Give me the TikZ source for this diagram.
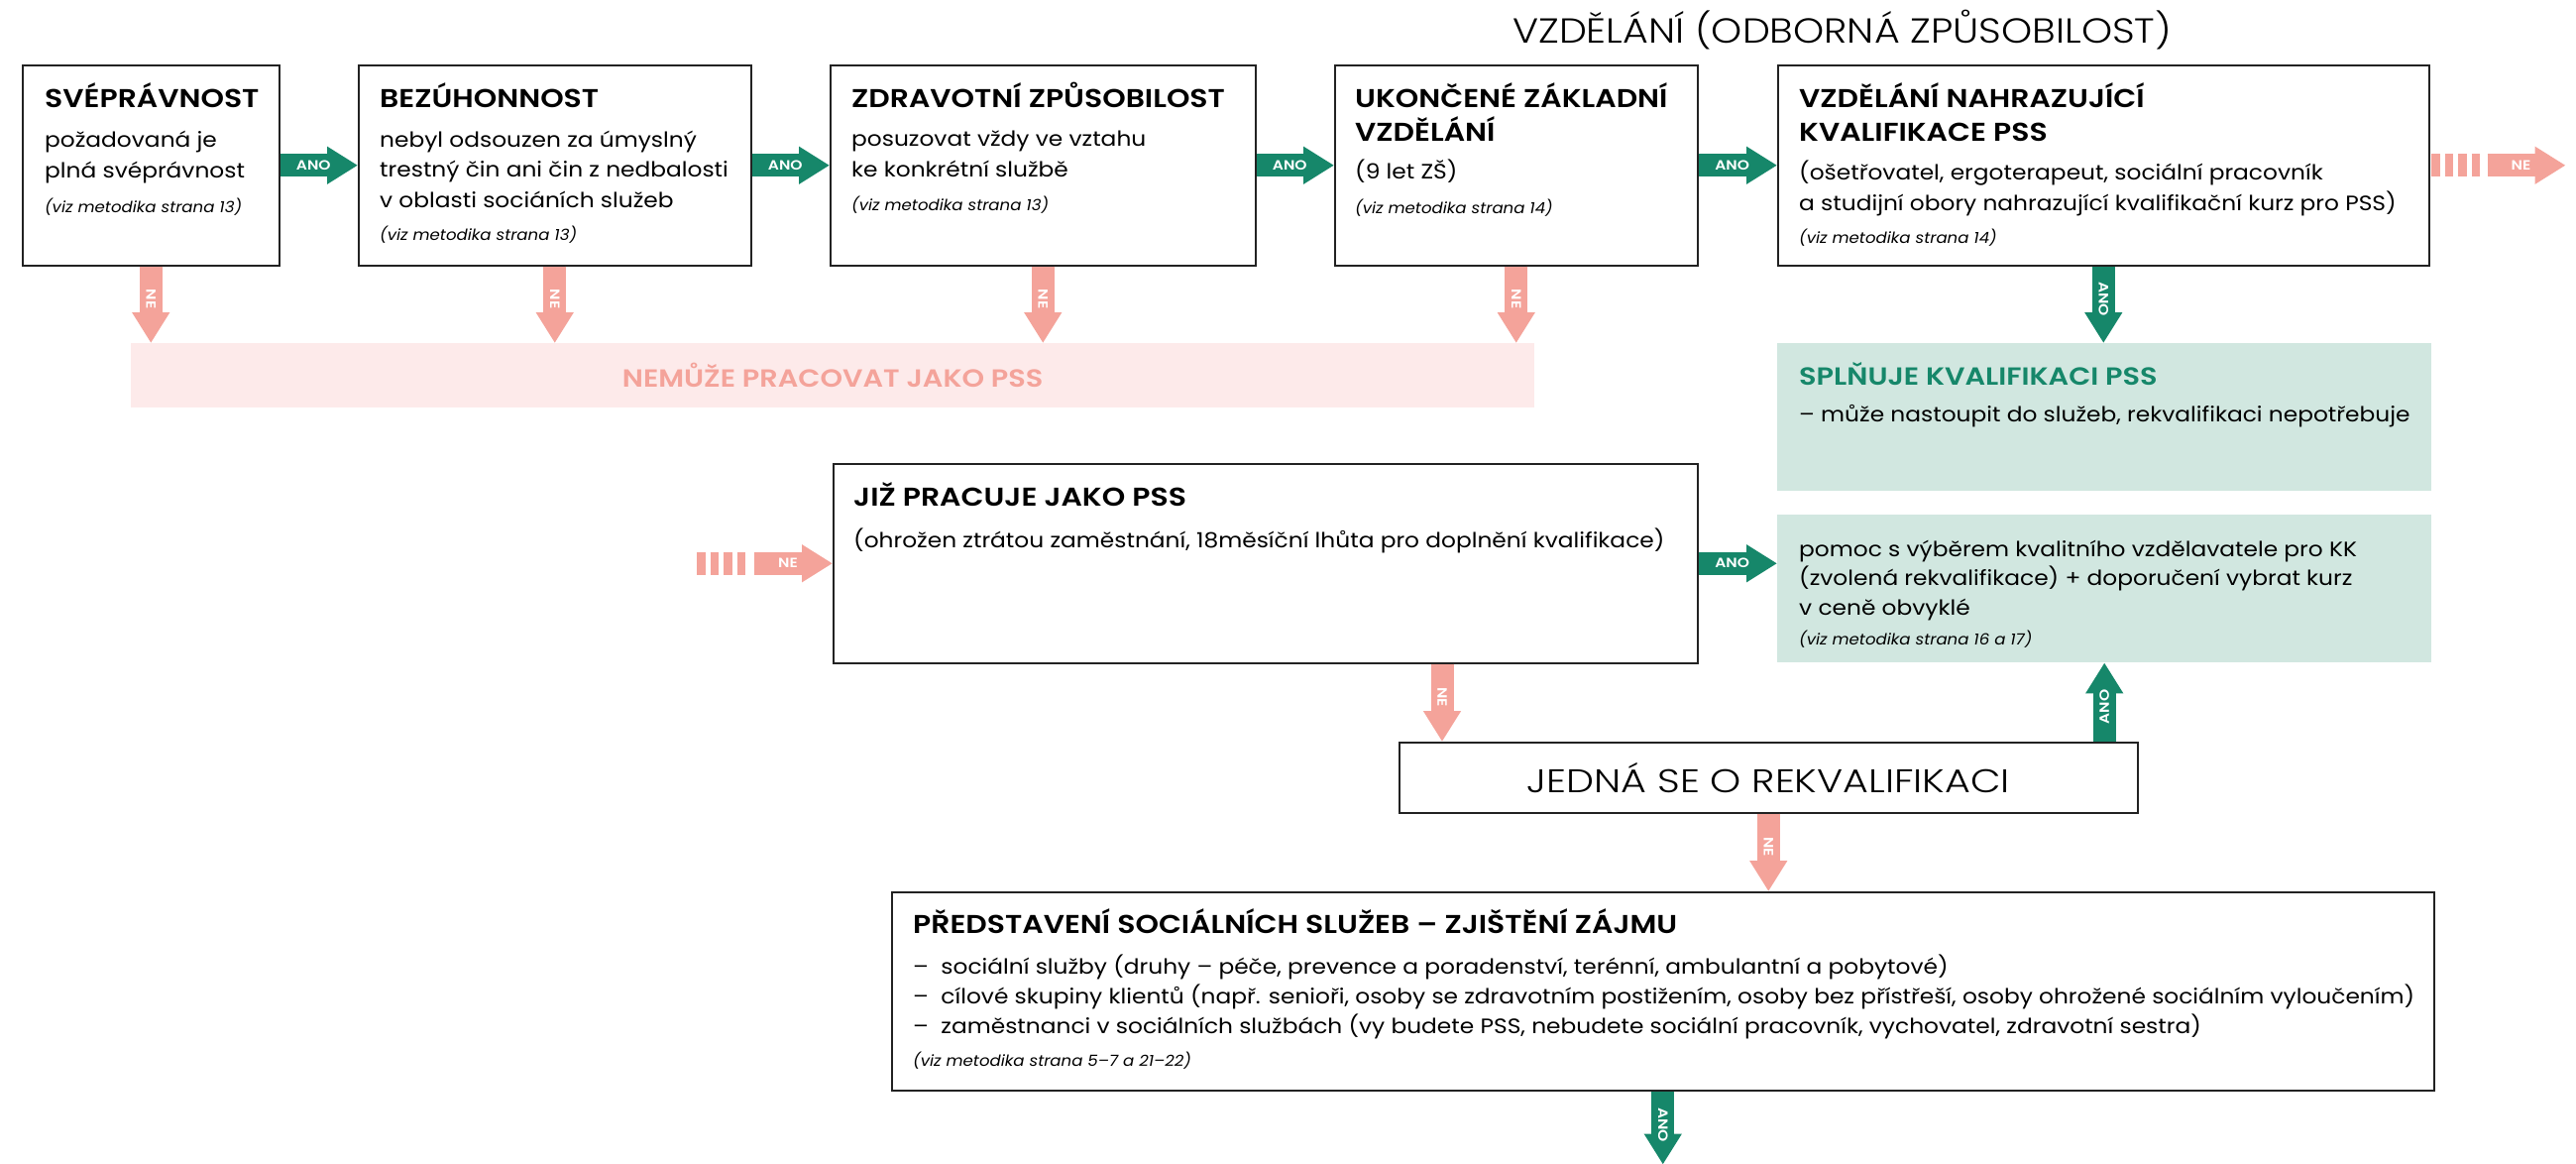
\documentclass[tikz,border=0pt]{standalone}
\usepackage{fontspec}
\setmainfont{Poppins}[FakeStretch=1.11]
\newfontfamily\headfont{Poppins SemiBold}[FakeStretch=1.15]
\newfontfamily\reffont{Poppins Italic}[FakeStretch=1.07]
\newfontfamily\lightfont{Poppins Light}[FakeStretch=1.13]
\newfontfamily\jednafont{Poppins Light}[FakeStretch=1.2]
\usetikzlibrary{arrows.meta}

\definecolor{anogreen}{HTML}{16876A}
\definecolor{nepink}{HTML}{F4A39A}
\definecolor{pinkbg}{HTML}{FDEAEA}
\definecolor{greenbg}{HTML}{D1E7E0}
\definecolor{boxline}{HTML}{222222}

\tikzset{
  boxnode/.style={draw=boxline, line width=1.5pt, inner sep=0pt, anchor=north west},
  fillbox/.style={inner sep=0pt, anchor=north west},
  headtxt/.style={anchor=base west, inner sep=0pt, align=left, font=\headfont\fontsize{26}{34}\selectfont},
  bodytxt/.style={anchor=base west, inner sep=0pt, align=left, font=\fontsize{21}{30.5}\selectfont},
  reftxt/.style={anchor=base west, inner sep=0pt, font=\reffont\fontsize{15.5}{20}\selectfont},
  anoarrow/.style={draw=anogreen, line width=23pt, -{Triangle[length=31pt,width=36pt]}},
  nearrow/.style={draw=nepink, line width=23pt, -{Triangle[length=31pt,width=36pt]}},
  stripes/.style={draw=nepink, line width=23pt, dash pattern=on 8.6pt off 5pt},
  lbl/.style={text=white, inner sep=0pt, font=\headfont\fontsize{13.5}{14}\selectfont},
}

\begin{document}
\begin{tikzpicture}[x=1pt,y=-1pt]
    \useasboundingbox[fill=white] (0,0) rectangle (2599,1173);

    \node [anchor=base west, inner sep=0pt, font=\lightfont\fontsize{35}{40}\selectfont] (titul) at (1526,43) {VZDĚLÁNÍ (ODBORNÁ ZPŮSOBILOST)};

    \node [boxnode, minimum width=259pt, minimum height=202pt] (svep) at (22,65) {};
    \node [headtxt] (svep-h) at ([shift={(23,43)}]svep.north west) {SVÉPRÁVNOST};
    \node [bodytxt] (svep-b) at ([shift={(23,114)}]svep.north west) {požadovaná je\\plná svéprávnost};
    \node [reftxt] (svep-r) at ([shift={(23,149)}]svep.north west) {(viz metodika strana 13)};

    \node [boxnode, minimum width=396pt, minimum height=202pt] (bezuh) at (361,65) {};
    \node [headtxt] (bezuh-h) at ([shift={(22,43)}]bezuh.north west) {BEZÚHONNOST};
    \node [bodytxt] (bezuh-b) at ([shift={(22,144)}]bezuh.north west) {nebyl odsouzen za úmyslný\\trestný čin ani čin z nedbalosti\\v oblasti sociáních služeb};
    \node [reftxt] (bezuh-r) at ([shift={(22,177)}]bezuh.north west) {(viz metodika strana 13)};

    \node [boxnode, minimum width=429pt, minimum height=202pt] (zdrav) at (837,65) {};
    \node [headtxt] (zdrav-h) at ([shift={(22,43)}]zdrav.north west) {ZDRAVOTNÍ ZPŮSOBILOST};
    \node [bodytxt] (zdrav-b) at ([shift={(22,113)}]zdrav.north west) {posuzovat vždy ve vztahu\\ke konkrétní službě};
    \node [reftxt] (zdrav-r) at ([shift={(22,147)}]zdrav.north west) {(viz metodika strana 13)};

    \node [boxnode, minimum width=366pt, minimum height=202pt] (zakl) at (1346,65) {};
    \node [headtxt] (zakl-h) at ([shift={(21,77)}]zakl.north west) {UKONČENÉ ZÁKLADNÍ\\VZDĚLÁNÍ};
    \node [bodytxt] (zakl-b) at ([shift={(21,115)}]zakl.north west) {(9 let ZŠ)};
    \node [reftxt] (zakl-r) at ([shift={(21,150)}]zakl.north west) {(viz metodika strana 14)};

    \node [boxnode, minimum width=657pt, minimum height=202pt] (nahr) at (1793,65) {};
    \node [headtxt] (nahr-h) at ([shift={(22,77)}]nahr.north west) {VZDĚLÁNÍ NAHRAZUJÍCÍ\\KVALIFIKACE PSS};
    \node [bodytxt] (nahr-b) at ([shift={(22,147)}]nahr.north west) {(ošetřovatel, ergoterapeut, sociální pracovník\\a studijní obory nahrazující kvalifikační kurz pro PSS)};
    \node [reftxt] (nahr-r) at ([shift={(22,180)}]nahr.north west) {(viz metodika strana 14)};

    \node [fillbox, fill=pinkbg, minimum width=1416pt, minimum height=65pt, text=nepink, font=\headfont\fontsize{25}{30}\selectfont] (nemuze) at (132,346) {NEMŮŽE PRACOVAT JAKO PSS};

    \node [fillbox, fill=greenbg, minimum width=660pt, minimum height=149pt] (splnuje) at (1793,346) {};
    \node [headtxt, text=anogreen, font=\headfont\fontsize{25}{30}\selectfont] (splnuje-h) at ([shift={(22,42)}]splnuje.north west) {SPLŇUJE KVALIFIKACI PSS};
    \node [bodytxt] (splnuje-b) at ([shift={(22,79)}]splnuje.north west) {– může nastoupit do služeb, rekvalifikaci nepotřebuje};

    \node [boxnode, minimum width=872pt, minimum height=201pt] (jiz) at (840,467) {};
    \node [headtxt] (jiz-h) at ([shift={(21,43)}]jiz.north west) {JIŽ PRACUJE JAKO PSS};
    \node [bodytxt] (jiz-b) at ([shift={(21,85)}]jiz.north west) {(ohrožen ztrátou zaměstnání, 18měsíční lhůta pro doplnění kvalifikace)};

    \node [fillbox, fill=greenbg, minimum width=660pt, minimum height=149pt] (pomoc) at (1793,519) {};
    \node [bodytxt, font=\fontsize{21}{29.5}\selectfont] (pomoc-b) at ([shift={(22,101)}]pomoc.north west) {pomoc s výběrem kvalitního vzdělavatele pro KK\\(zvolená rekvalifikace) + doporučení vybrat kurz\\v ceně obvyklé};
    \node [reftxt] (pomoc-r) at ([shift={(22,131)}]pomoc.north west) {(viz metodika strana 16 a 17)};

    \node [boxnode, minimum width=745pt, minimum height=71pt, font=\jednafont\fontsize{33}{36}\selectfont] (jedna) at (1411,748) {JEDNÁ SE O REKVALIFIKACI};

    \node [boxnode, minimum width=1556pt, minimum height=200pt] (pred) at (899,899) {};
    \node [headtxt] (pred-h) at ([shift={(22,42)}]pred.north west) {PŘEDSTAVENÍ SOCIÁLNÍCH SLUŽEB – ZJIŠTĚNÍ ZÁJMU};
    \node [bodytxt, font=\fontsize{21}{30}\selectfont] (pred-b) at ([shift={(22,143)}]pred.north west) {–\ \ sociální služby (druhy – péče, prevence a poradenství, terénní, ambulantní a pobytové)\\–\ \ cílové skupiny klientů (např. senioři, osoby se zdravotním postižením, osoby bez přístřeší, osoby ohrožené sociálním vyloučením)\\–\ \ zaměstnanci v sociálních službách (vy budete PSS, nebudete sociální pracovník, vychovatel, zdravotní sestra)};
    \node [reftxt] (pred-r) at ([shift={(22,176)}]pred.north west) {(viz metodika strana 5–7 a 21–22)};

    \coordinate (nesolid) at ([xshift=58pt]nahr.east);
    \coordinate (neout) at ([xshift=137pt]nahr.east);
    \coordinate (nestart) at ([xshift=-137pt]jiz.west);
    \coordinate (nesolid2) at ([xshift=-79pt]jiz.west);
    \coordinate (jtop) at ([xshift=44pt]jedna.north west);
    \coordinate (konec) at ([yshift=-74pt]pred.south);

    \draw[anoarrow] (svep.east) -- (bezuh.west) node[lbl, pos=.43] (ano1) {ANO};
    \draw[anoarrow] (bezuh.east) -- (zdrav.west) node[lbl, pos=.43] (ano2) {ANO};
    \draw[anoarrow] (zdrav.east) -- (zakl.west) node[lbl, pos=.43] (ano3) {ANO};
    \draw[anoarrow] (zakl.east) -- (nahr.west) node[lbl, pos=.43] (ano4) {ANO};

    \draw[nearrow] (svep.south) -- (svep.south |- nemuze.north) node[lbl, pos=.43, rotate=-90] (ne1) {NE};
    \draw[nearrow] (bezuh.south) -- (bezuh.south |- nemuze.north) node[lbl, pos=.43, rotate=-90] (ne2) {NE};
    \draw[nearrow] (zdrav.south) -- (zdrav.south |- nemuze.north) node[lbl, pos=.43, rotate=-90] (ne3) {NE};
    \draw[nearrow] (zakl.south) -- (zakl.south |- nemuze.north) node[lbl, pos=.43, rotate=-90] (ne4) {NE};

    \draw[anoarrow] (nahr.south) -- (nahr.south |- splnuje.north) node[lbl, pos=.43, rotate=-90] (ano5) {ANO};
    \draw[stripes] ([xshift=1.5pt]nahr.east) -- ([xshift=52pt]nahr.east);
    \draw[nearrow] (nesolid) -- (neout) node[lbl, pos=.43] (ne5) {NE};

    \draw[stripes] (nestart) -- ([xshift=-85pt]jiz.west);
    \draw[nearrow] (nesolid2) -- (jiz.west) node[lbl, pos=.43] (ne6) {NE};
    \draw[anoarrow] (jiz.east) -- (jiz.east -| pomoc.west) node[lbl, pos=.43] (ano6) {ANO};

    \draw[nearrow] (jiz.south -| jtop) -- (jtop) node[lbl, pos=.43, rotate=-90] (ne7) {NE};
    \draw[anoarrow] (jedna.north -| pomoc.south) -- (pomoc.south) node[lbl, pos=.44, rotate=90] (ano7) {ANO};
    \draw[nearrow] (jedna.south) -- (jedna.south |- pred.north) node[lbl, pos=.43, rotate=-90] (ne8) {NE};
    \draw[anoarrow] (pred.south) -- (konec) node[lbl, pos=.46, rotate=-90] (ano8) {ANO};
\end{tikzpicture}
\end{document}
